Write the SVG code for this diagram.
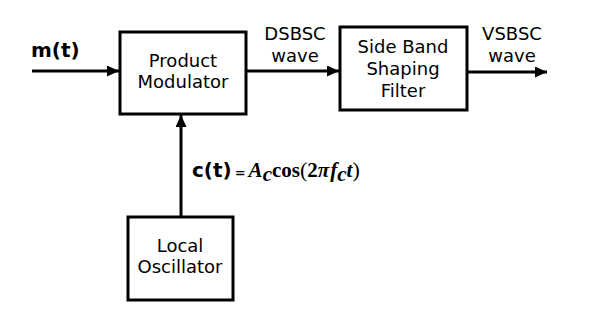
<svg xmlns="http://www.w3.org/2000/svg" width="600" height="323" viewBox="0 0 600 323">
<style>
.box{fill:#fff;stroke:#000;stroke-width:3}
.ln{fill:none;stroke:#000;stroke-width:3}
.t{font-family:"DejaVu Sans",Verdana,sans-serif;font-size:18px;fill:#000;text-anchor:middle}
.b{font-family:"DejaVu Sans",Verdana,sans-serif;font-size:20px;font-weight:bold;fill:#000}
.m{font-family:"Liberation Serif","DejaVu Serif",serif;font-size:21px;font-weight:bold;font-style:italic;fill:#000}
.r{font-family:"Liberation Serif","DejaVu Serif",serif;font-size:21px;font-weight:bold;fill:#000}
.p{font-family:"Liberation Serif","DejaVu Serif",serif;font-size:22px;fill:#000}
</style>
<defs>
<marker id="ah" markerWidth="12" markerHeight="11" refX="12" refY="5.5" orient="auto" markerUnits="userSpaceOnUse">
<path d="M0,0 L12,5.5 L0,11 Z" fill="#000"/>
</marker>
</defs>
<rect width="600" height="323" fill="#fff"/>
<g id="connectors">
<line class="ln" x1="32" y1="71" x2="119" y2="71" marker-end="url(#ah)"/>
<line class="ln" x1="246" y1="71" x2="339" y2="71" marker-end="url(#ah)"/>
<line class="ln" x1="467" y1="72" x2="547" y2="72" marker-end="url(#ah)"/>
<line class="ln" x1="181" y1="217" x2="181" y2="115" marker-end="url(#ah)"/>
</g>
<g id="product-modulator">
<rect class="box" x="120" y="32" width="126" height="82"/>
<text class="t" x="183" y="67">Product</text>
<text class="t" x="183" y="88">Modulator</text>
</g>
<g id="sideband-filter">
<rect class="box" x="340" y="27" width="127" height="83"/>
<text class="t" x="403" y="53">Side Band</text>
<text class="t" x="403" y="75">Shaping</text>
<text class="t" x="403" y="97">Filter</text>
</g>
<g id="local-oscillator">
<rect class="box" x="128" y="217" width="105" height="83"/>
<text class="t" x="180" y="252">Local</text>
<text class="t" x="180" y="273">Oscillator</text>
</g>
<g id="labels">
<text class="b" x="31" y="57">m(t)</text>
<text class="t" x="295" y="40">DSBSC</text>
<text class="t" x="295" y="62">wave</text>
<text class="t" x="512" y="40">VSBSC</text>
<text class="t" x="512" y="62">wave</text>
<text x="192" y="177"><tspan class="b">c(t)</tspan><tspan font-family="DejaVu Sans,sans-serif" font-size="13" font-weight="bold" dx="3">=</tspan><tspan class="m" dx="3">A</tspan><tspan class="m" font-size="14" dy="4">c</tspan><tspan class="r" dy="-4">cos</tspan><tspan class="p">(</tspan><tspan class="r">2</tspan><tspan class="m">π</tspan><tspan class="m" dx="1">f</tspan><tspan class="m" font-size="14" dy="4">c</tspan><tspan class="m" dy="-4">t</tspan><tspan class="p">)</tspan></text>
</g>
</svg>
